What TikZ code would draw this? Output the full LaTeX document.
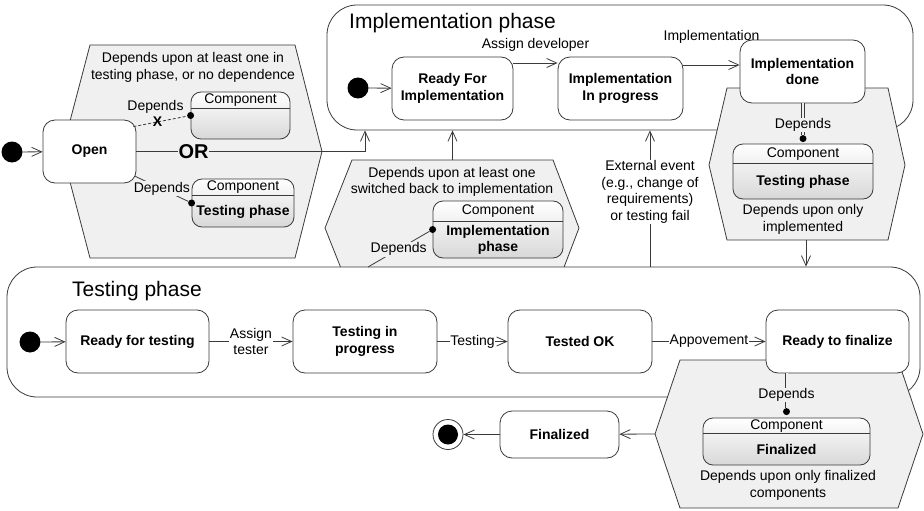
\documentclass[tikz,border=0pt]{standalone}
\usepackage{fontspec}
\setmainfont{Liberation Sans}
\usetikzlibrary{arrows.meta}
\definecolor{ln}{HTML}{3A3A3A}
\definecolor{hexfill}{HTML}{F0F0F0}
\definecolor{compbot}{HTML}{D8D8D8}
\begin{document}
\begin{tikzpicture}[x=1pt,y=-1pt,
  lbl/.style={font=\fontsize{14}{16.5}\selectfont, align=center, inner sep=1pt, text=black},
  state/.style={draw=ln, fill=white, rounded corners=12pt, line width=0.8pt, font=\fontsize{14}{16.5}\selectfont\bfseries, align=center, inner sep=0pt},
  container/.style={draw=ln, fill=white, rounded corners=30pt, line width=0.8pt, inner sep=0pt},
  hexa/.style={draw=ln, fill=hexfill, line width=0.8pt},
  comp/.style={draw=ln, rounded corners=10pt, top color=white, bottom color=compbot, line width=0.8pt, inner sep=0pt},
  flow/.style={draw=ln, line width=0.8pt, -{Straight Barb[length=10pt,width=9pt]}},
  conn/.style={draw=ln, line width=0.8pt},
  dbl/.style={draw=ln, line width=0.6pt, double=hexfill, double distance=2pt},
  initdot/.style={circle, fill=black, minimum size=21pt, inner sep=0pt},
  depdot/.style={circle, fill=black, minimum size=7pt, inner sep=0pt},
  phasetitle/.style={font=\fontsize{21}{24}\selectfont, anchor=base west, inner sep=0pt},
  hdr/.style={font=\fontsize{14}{16.5}\selectfont, inner sep=0pt},
  body/.style={font=\fontsize{14}{16.5}\selectfont\bfseries, align=center, inner sep=0pt},
]
\useasboundingbox (0,0) rectangle (924,511);
% ---- containers and hexagons
\node[container, minimum width=586pt, minimum height=125pt] (implphase) at (620,67.5) {};
\node[phasetitle] (impltitle) at (349,29) {Implementation phase};
\draw[hexa] (352,160) -- (553,160) -- (579,228) -- (553,296) -- (352,296) -- (325,228) -- cycle;
\coordinate (hexmidtop) at (452.5,160);
\node[container, minimum width=913pt, minimum height=130pt] (testphase) at (463.5,332) {};
\node[phasetitle] (testtitle) at (72,296) {Testing phase};
\draw[hexa] (90,45) -- (295,45) -- (322,151.5) -- (295,258) -- (90,258) -- (62,151.5) -- cycle;
\draw[hexa] (727,88) -- (888,88) -- (905,165) -- (888,240) -- (727,240) -- (709,165) -- cycle;
\coordinate (hexdonebot) at (806,240);
\draw[hexa] (680,360) -- (898,360) -- (923,434) -- (898,508) -- (680,508) -- (655,434) -- cycle;
\coordinate (hexfinleft) at (655,434);
% ---- hexagon texts
\node[lbl] (hexopentxt) at (193,67.5) {Depends upon at least one in\\testing phase, or no dependence};
\node[lbl] (hexmidtxt) at (452,182) {Depends upon at least one\\switched back to implementation};
\node[lbl] (hexdonetxt) at (803,219.5) {Depends upon only\\implemented};
\node[lbl] (hexfintxt) at (788,485.5) {Depends upon only finalized\\components};
% ---- components
\node[comp, minimum width=99pt, minimum height=47pt] (c1) at (240.5,115.5) {};
\draw[conn] ([yshift=-17pt]c1.north west) -- ([yshift=-17pt]c1.north east);
\node[hdr] (c1h) at (240.5,100.5) {Component};
\node[comp, minimum width=102pt, minimum height=48pt] (c2) at (243,203) {};
\draw[conn] ([yshift=-17pt]c2.north west) -- ([yshift=-17pt]c2.north east);
\node[hdr] (c2h) at (243,187.5) {Component};
\node[body] (c2b) at (243,211.5) {Testing phase};
\node[comp, minimum width=130pt, minimum height=57pt] (c3) at (498,229.5) {};
\draw[conn] ([yshift=-21pt]c3.north west) -- ([yshift=-21pt]c3.north east);
\node[hdr] (c3h) at (498,211.5) {Component};
\node[body] (c3b) at (498,240) {Implementation\\phase};
\node[comp, minimum width=140pt, minimum height=55pt] (c4) at (803,171.5) {};
\draw[conn] ([yshift=-20pt]c4.north west) -- ([yshift=-20pt]c4.north east);
\node[hdr] (c4h) at (803,154) {Component};
\node[body] (c4b) at (803,181.5) {Testing phase};
\node[comp, minimum width=167pt, minimum height=47pt] (c5) at (786.5,441.5) {};
\draw[conn] ([yshift=-16pt]c5.north west) -- ([yshift=-16pt]c5.north east);
\node[hdr] (c5h) at (786.5,426) {Component};
\node[body] (c5b) at (786.5,449.5) {Finalized};
% ---- states
\node[initdot] (init) at (12,152) {};
\node[state, minimum width=93pt, minimum height=63pt] (open) at (89.5,151.5) {Open};
\node[initdot] (implinit) at (358,88) {};
\node[state, minimum width=121pt, minimum height=63pt] (ready) at (452.5,88.5) {Ready For\\Implementation};
\node[state, minimum width=125pt, minimum height=63pt] (inprog) at (620.5,88.5) {Implementation\\In progress};
\node[state, minimum width=125pt, minimum height=63pt] (done) at (802.5,71.5) {Implementation\\done};
\node[initdot] (testinit) at (30,342) {};
\node[state, minimum width=143pt, minimum height=63pt] (rtest) at (137.5,341.5) {Ready for testing};
\node[state, minimum width=144pt, minimum height=63pt] (tprog) at (365,341.5) {Testing in\\progress};
\node[state, minimum width=144pt, minimum height=63pt] (tok) at (580,341.5) {Tested OK};
\node[state, minimum width=143pt, minimum height=63pt] (rfin) at (837.5,341.5) {Ready to finalize};
\node[state, minimum width=119pt, minimum height=47pt] (fin) at (559.5,434.5) {Finalized};
\node[circle, draw=ln, fill=white, minimum size=30pt, line width=0.8pt, inner sep=0pt] (final) at (448,434.5) {};
\node[initdot, minimum size=20pt] (finaldot) at (final) {};
% ---- dependency dots
\node[depdot] (d1) at (c1.west) {};
\node[depdot] (d2) at (c2.west) {};
\node[depdot] (d3) at (c3.west) {};
\node[depdot] (d4) at ([yshift=5pt]c4.north) {};
\node[depdot] (d5) at ([yshift=6pt]c5.north) {};
% ---- connectors
\draw[flow] (init) -- (open);
\draw[conn, dash pattern=on 3pt off 2pt] ([shift={(-3pt,-7pt)}]open.north east) -- node[pos=0.45, inner sep=0pt, font=\fontsize{14}{14}\selectfont\bfseries] (xmark) {X} node[pos=0.45, lbl, yshift=15pt, xshift=-2pt] (dep1) {Depends} (d1);
\draw[conn] ([shift={(-1pt,7pt)}]open.south east) -- node[lbl, fill=hexfill] (dep2) {Depends} (d2);
\coordinate (orturn) at (365,151.5);
\draw[flow] (open.east) -- node[pos=0.25, fill=hexfill, inner sep=0.5pt, font=\fontsize{20}{20}\selectfont\bfseries] (ortxt) {OR} (orturn) -- (orturn |- implphase.south);
\draw[flow] (implinit) -- (ready);
\draw[flow] ([yshift=25.5pt]ready.east) -- node[lbl, yshift=18pt] (assigndev) {Assign developer} ([yshift=25.5pt]inprog.west);
\draw[flow] ([yshift=23.5pt]inprog.east) -- node[lbl, yshift=28pt] (impllbl) {Implementation} ([yshift=6.5pt]done.west);
\draw[dbl] (done.south -| d4) -- node[lbl, fill=hexfill, pos=0.69, inner sep=0.5pt] (dep4) {Depends} (d4);
\draw[flow] (hexdonebot) -- (hexdonebot |- testphase.north);
\draw[flow] (hexmidtop) -- (hexmidtop |- implphase.south);
\coordinate (extbot) at (650,267);
\draw[flow] (extbot) -- node[lbl, fill=white, pos=0.55] (extlbl) {External event\\(e.g., change of\\requirements)\\or testing fail} (extbot |- implphase.south);
\coordinate (tdep) at (368,267);
\draw[conn] (tdep) -- node[lbl, fill=hexfill] (dep3) {Depends} (d3);
\draw[flow] (testinit) -- (rtest);
\draw[flow] (rtest) -- node[lbl, fill=white] (assigntester) {Assign\\tester} (tprog);
\draw[flow] (tprog) -- node[lbl, fill=white, inner sep=0.5pt] (testinglbl) {Testing} (tok);
\draw[flow] (tok) -- node[lbl, fill=white, inner sep=0.5pt] (applbl) {Appovement} (rfin);
\draw[dbl] (rfin.south -| d5) -- node[lbl, fill=hexfill, pos=0.62, inner sep=0.5pt] (dep5) {Depends} (d5);
\draw[flow] (hexfinleft) -- (fin);
\draw[flow] (fin) -- (final);
\end{tikzpicture}
\end{document}
